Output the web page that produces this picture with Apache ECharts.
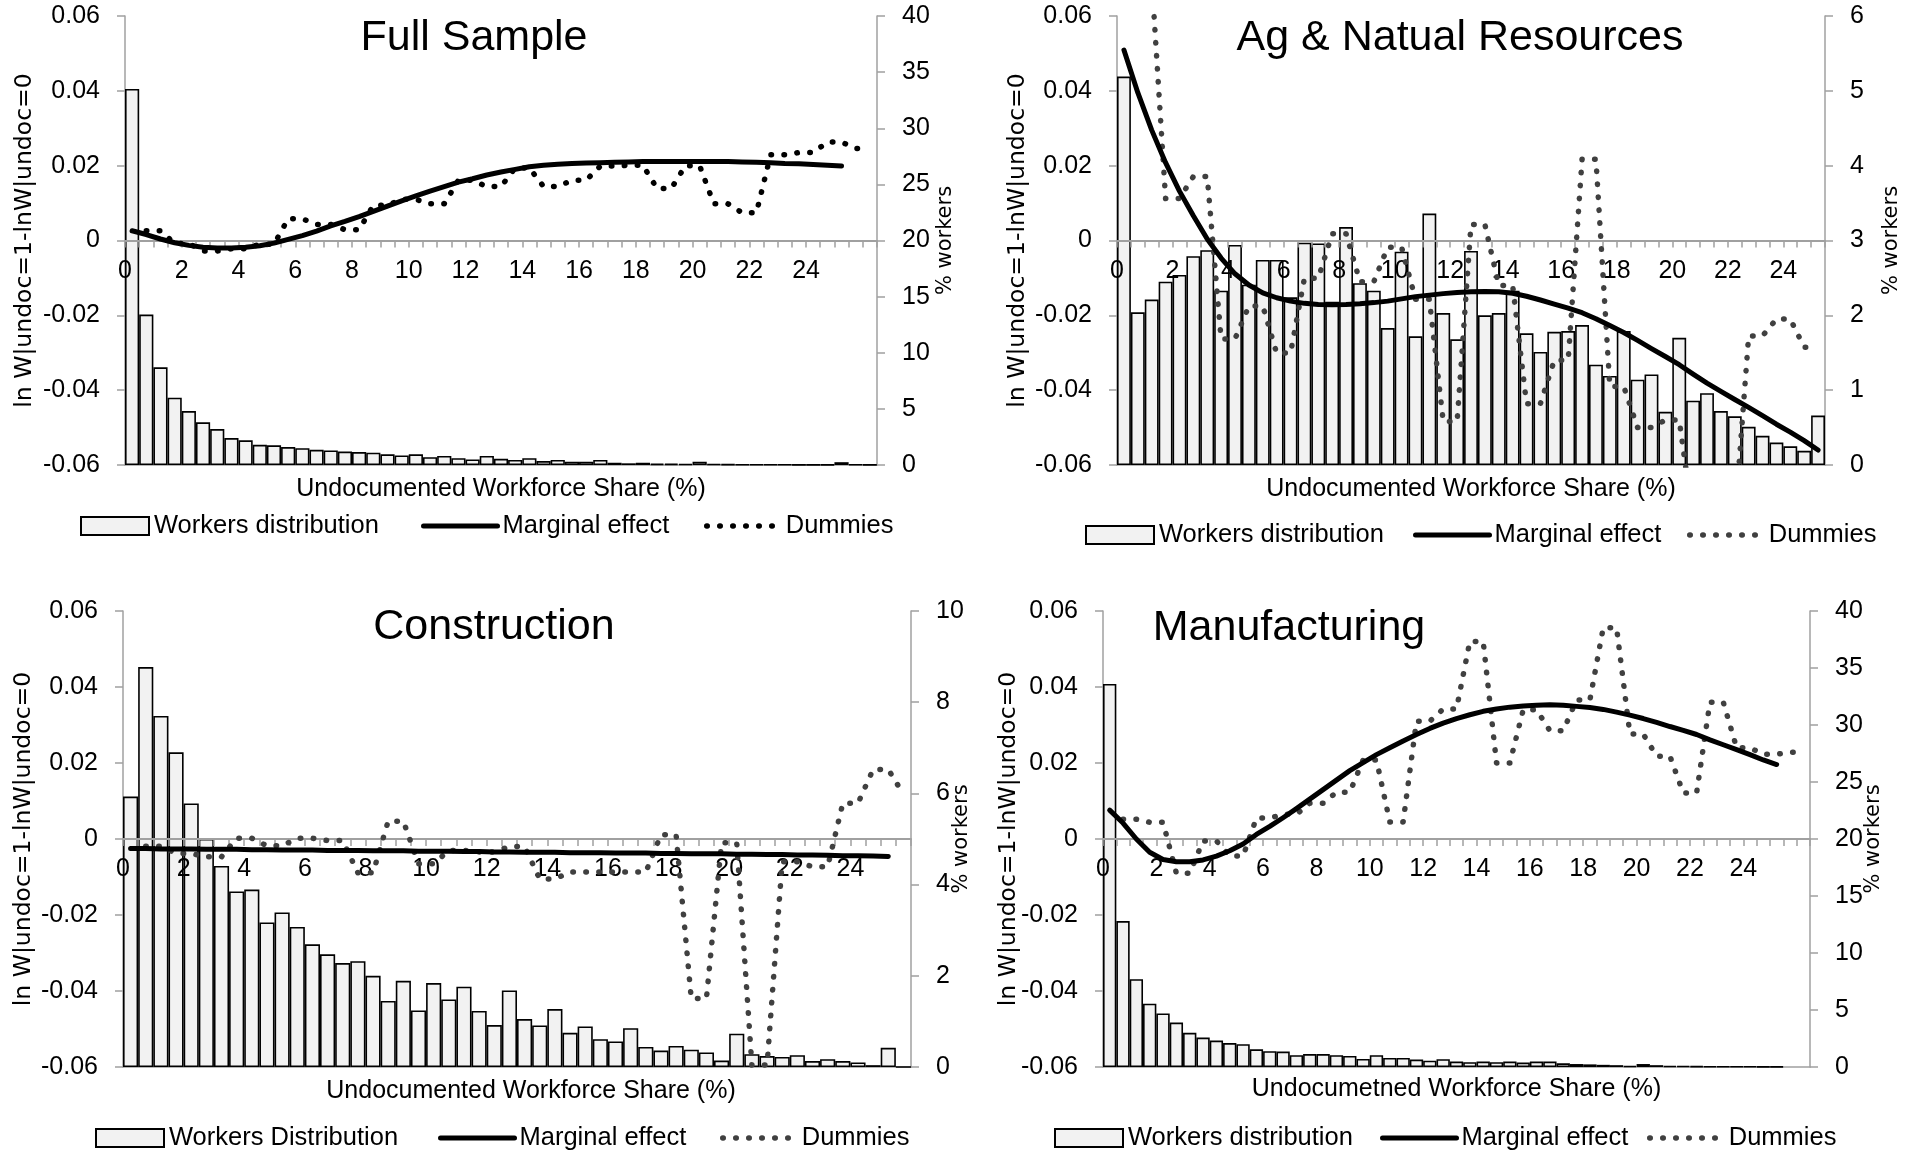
<!DOCTYPE html>
<html>
<head>
<meta charset="utf-8">
<script src="https://cdn.jsdelivr.net/npm/echarts@6/dist/echarts.min.js"></script>
<style>
html,body{margin:0;padding:0;background:#ffffff;}
#chart{width:1909px;height:1151px;}
</style>
</head>
<body>
<div id="chart"></div>
<script>
// ---------------- DATA ----------------
// category bins (lower bound of each 0.5-point bin of undocumented workforce share, %)
const shareCategories = ['0','0.5','1','1.5','2','2.5','3','3.5','4','4.5','5','5.5','6','6.5','7','7.5','8','8.5','9','9.5',
  '10','10.5','11','11.5','12','12.5','13','13.5','14','14.5','15','15.5','16','16.5','17','17.5','18','18.5','19','19.5',
  '20','20.5','21','21.5','22','22.5','23','23.5','24','24.5','25','25.5','26'];
const fullCategories = shareCategories.slice(0, 53);
const agCategories = shareCategories.slice(0, 51);
const constructionCategories = shareCategories.slice(0, 52);
const manufacturingCategories = shareCategories.slice(0, 53);

const xTickLabels = ['0','2','4','6','8','10','12','14','16','18','20','22','24'];
const leftTickLabels = ['-0.06','-0.04','-0.02','0','0.02','0.04','0.06'];
const rightTicksFull = ['0','5','10','15','20','25','30','35','40'];
const rightTicksAg = ['0','1','2','3','4','5','6'];
const rightTicksConstruction = ['0','2','4','6','8','10'];
const rightTicksManufacturing = ['0','5','10','15','20','25','30','35','40'];

// Full Sample
const fullWorkers = [33.5,13.4,8.7,6.0,4.8,3.8,3.2,2.4,2.2,1.8,
  1.75,1.6,1.5,1.35,1.3,1.2,1.15,1.1,0.95,0.85,
  0.95,0.7,0.8,0.6,0.5,0.8,0.55,0.45,0.6,0.35,
  0.45,0.3,0.3,0.45,0.2,0.15,0.2,0.12,0.12,0.1,
  0.3,0.08,0.06,0.05,0.05,0.04,0.04,0.03,0.03,0.03,
  0.25,0.05,0.03];
const fullMarginal = [0.0026,0.0016,0.0004,-0.0006,-0.0013,-0.0018,-0.0020,-0.0020,-0.0018,-0.0014,
  -0.0007,0.0003,0.0013,0.0025,0.0039,0.0051,0.0064,0.0078,0.0092,0.0106,
  0.0119,0.0132,0.0144,0.0156,0.0165,0.0175,0.0183,0.0190,0.0197,0.0201,
  0.0204,0.0206,0.0207,0.0208,0.0209,0.0210,0.0211,0.0211,0.0211,0.0211,
  0.0211,0.0211,0.0211,0.0210,0.0209,0.0208,0.0206,0.0205,0.0203,0.0201,
  0.0199];
const fullDummies = [null,0.0026,0.0026,-0.0008,-0.0008,-0.0028,-0.0028,-0.0022,-0.0022,-0.0010,
  -0.0010,0.0058,0.0058,0.0043,0.0043,0.0029,0.0029,0.0094,0.0094,0.0110,
  0.0110,0.0098,0.0098,0.0161,0.0161,0.0144,0.0144,0.0194,0.0194,0.0144,
  0.0144,0.0161,0.0161,0.0199,0.0199,0.0201,0.0201,0.0139,0.0139,0.0200,
  0.0200,0.0098,0.0098,0.0074,0.0074,0.0229,0.0229,0.0235,0.0235,0.0263,
  0.0263,0.0246,0.0246];

// Ag & Natural Resources
const agWorkers = [5.19,2.04,2.21,2.45,2.54,2.79,2.87,2.33,2.94,2.41,
  2.74,2.74,2.24,2.97,2.96,2.18,3.18,2.43,2.33,1.83,
  2.85,1.72,3.36,2.03,1.68,2.86,2.00,2.03,2.33,1.76,
  1.51,1.78,1.79,1.87,1.34,1.19,1.79,1.14,1.21,0.71,
  1.70,0.86,0.96,0.72,0.65,0.51,0.39,0.30,0.25,0.19,
  0.66];
const agMarginal = [0.0509,0.0395,0.0295,0.0208,0.0132,0.0066,0.0004,-0.0047,-0.0089,-0.0119,
  -0.0140,-0.0153,-0.0162,-0.0168,-0.0171,-0.0172,-0.0171,-0.0169,-0.0166,-0.0162,
  -0.0156,-0.0150,-0.0146,-0.0142,-0.0139,-0.0137,-0.0136,-0.0137,-0.0141,-0.0149,
  -0.0159,-0.0170,-0.0181,-0.0193,-0.0209,-0.0227,-0.0246,-0.0267,-0.0289,-0.0310,
  -0.0332,-0.0357,-0.0381,-0.0403,-0.0425,-0.0446,-0.0468,-0.0491,-0.0512,-0.0535,
  -0.0560];
const agDummies = [null,0.0700,0.0700,0.0112,0.0112,0.0171,0.0171,-0.0263,-0.0263,-0.0175,
  -0.0175,-0.0301,-0.0301,-0.0101,-0.0101,0.0018,0.0018,-0.0110,-0.0110,-0.0018,
  -0.0018,-0.0157,-0.0157,-0.0484,-0.0484,0.0043,0.0043,-0.0120,-0.0120,-0.0436,
  -0.0436,-0.0320,-0.0320,0.0217,0.0217,-0.0390,-0.0390,-0.0500,-0.0500,-0.0480,
  -0.0480,-0.0750,-0.0750,-0.0750,-0.0750,-0.0255,-0.0255,-0.0210,-0.0210,-0.0285,
  -0.0285];

// Construction
const constructionWorkers = [5.93,8.77,7.7,6.9,5.78,5.0,4.41,3.85,3.89,3.17,
  3.39,3.07,2.69,2.47,2.28,2.32,2.0,1.45,1.89,1.24,
  1.84,1.48,1.76,1.23,0.92,1.68,1.05,0.91,1.27,0.75,
  0.89,0.61,0.56,0.85,0.44,0.36,0.46,0.38,0.32,0.14,
  0.73,0.28,0.24,0.22,0.26,0.13,0.17,0.13,0.10,0.04,
  0.42,0];
const constructionMarginal = [-0.0025,-0.0025,-0.0026,-0.0026,-0.0026,-0.0027,-0.0027,-0.0027,-0.0028,-0.0028,
  -0.0029,-0.0029,-0.0029,-0.0030,-0.0030,-0.0030,-0.0031,-0.0031,-0.0031,-0.0032,
  -0.0032,-0.0032,-0.0033,-0.0033,-0.0034,-0.0034,-0.0035,-0.0035,-0.0035,-0.0036,
  -0.0036,-0.0036,-0.0037,-0.0037,-0.0037,-0.0038,-0.0038,-0.0039,-0.0039,-0.0039,
  -0.0040,-0.0040,-0.0041,-0.0041,-0.0042,-0.0042,-0.0043,-0.0044,-0.0044,-0.0045,
  -0.0046];
const constructionDummies = [null,-0.0019,-0.0019,-0.0038,-0.0038,-0.0047,-0.0047,0.0002,0.0002,-0.0018,
  -0.0018,0.0002,0.0002,-0.0004,-0.0004,-0.0089,-0.0089,0.0047,0.0047,-0.0065,
  -0.0065,-0.0030,-0.0030,-0.0034,-0.0034,-0.0020,-0.0020,-0.0105,-0.0105,-0.0087,
  -0.0087,-0.0087,-0.0087,-0.0087,-0.0087,0.0011,0.0011,-0.0420,-0.0420,-0.0010,
  -0.0010,-0.0595,-0.0595,-0.0060,-0.0060,-0.0073,-0.0073,0.0094,0.0094,0.0183,
  0.0183,0.0118];

// Manufacturing
const manufacturingWorkers = [33.6,12.8,7.7,5.55,4.7,3.9,3.0,2.58,2.32,2.1,
  2.0,1.55,1.39,1.35,1.03,1.13,1.13,1.03,0.97,0.71,
  1.03,0.8,0.8,0.65,0.55,0.68,0.48,0.42,0.48,0.42,
  0.48,0.39,0.48,0.48,0.32,0.26,0.23,0.19,0.16,0.1,
  0.26,0.16,0.1,0.08,0.06,0.05,0.05,0.04,0.04,0.03,
  0.03,null,null];
const manufacturingMarginal = [0.0076,0.0042,0.0000,-0.0035,-0.0054,-0.0060,-0.0060,-0.0055,-0.0045,-0.0031,
  -0.0013,0.0012,0.0033,0.0056,0.0080,0.0105,0.0130,0.0155,0.0180,0.0201,
  0.0222,0.0240,0.0258,0.0275,0.0291,0.0305,0.0317,0.0327,0.0336,0.0342,
  0.0347,0.0350,0.0352,0.0353,0.0352,0.0349,0.0346,0.0341,0.0334,0.0326,
  0.0317,0.0307,0.0296,0.0286,0.0275,0.0261,0.0248,0.0235,0.0222,0.0208,
  0.0196];
const manufacturingDummies = [null,0.0052,0.0052,0.0044,0.0044,-0.0090,-0.0090,-0.0005,-0.0005,-0.0045,
  -0.0045,0.0055,0.0055,0.0065,0.0065,0.0094,0.0094,0.0123,0.0123,0.0208,
  0.0208,0.0045,0.0045,0.0310,0.0310,0.0342,0.0342,0.0520,0.0520,0.0200,
  0.0200,0.0340,0.0340,0.0285,0.0285,0.0366,0.0366,0.0556,0.0556,0.0276,
  0.0276,0.0218,0.0218,0.0121,0.0121,0.0360,0.0360,0.0240,0.0240,0.0223,
  0.0223,0.0228,0.0228];

// ---------------- LAYOUT / STYLE ----------------
const FONT = "'Liberation Sans',Arimo,Arial,sans-serif";
const NAME_FONT = "'DejaVu Sans',Verdana,sans-serif";
const AXIS_GRAY = '#a0a0a0';
const TICK_SIZE = 25;

const panels = [
  {title:'Full Sample', cats:fullCategories, bars:fullWorkers, marginal:fullMarginal, dummies:fullDummies,
   barName:'Workers distribution', xName:'Undocumented Workforce Share (%)',
   rightMax:40, rightInterval:5, rightLabels:rightTicksFull, dummyColor:'#000000',
   grid:{left:125, top:16, width:752, height:449}, titleX:474, titleY:38,
   leftGap:88, rightGap:58, xNamePad:0, xNameGap:12, legendY:526, legendX:[80,421,704]},
  {title:'Ag & Natual Resources', cats:agCategories, bars:agWorkers, marginal:agMarginal, dummies:agDummies,
   barName:'Workers distribution', xName:'Undocumented Workforce Share (%)',
   rightMax:6, rightInterval:1, rightLabels:rightTicksAg, dummyColor:'#404040',
   grid:{left:1117, top:16, width:708, height:449}, titleX:1460, titleY:38,
   leftGap:87, rightGap:56, xNamePad:0, xNameGap:12, legendY:535, legendX:[1085,1413,1687]},
  {title:'Construction', cats:constructionCategories, bars:constructionWorkers, marginal:constructionMarginal, dummies:constructionDummies,
   barName:'Workers Distribution', xName:'Undocumented Workforce Share (%)',
   rightMax:10, rightInterval:2, rightLabels:rightTicksConstruction, dummyColor:'#404040',
   grid:{left:123, top:611, width:788, height:456}, titleX:494, titleY:627,
   leftGap:87, rightGap:40, xNamePad:28, xNameGap:12, legendY:1138, legendX:[95,438,720]},
  {title:'Manufacturing', cats:manufacturingCategories, bars:manufacturingWorkers, marginal:manufacturingMarginal, dummies:manufacturingDummies,
   barName:'Workers distribution', xName:'Undocumetned Workforce Share (%)',
   rightMax:40, rightInterval:5, rightLabels:rightTicksManufacturing, dummyColor:'#404040',
   grid:{left:1103, top:611, width:707, height:456}, titleX:1289, titleY:628,
   leftGap:82, rightGap:53, xNamePad:0, xNameGap:10, legendY:1138, legendX:[1054,1380,1647]}
];

function labelFor(list, v) {
  for (const s of list) { if (Math.abs(Number(s) - v) < 1e-9) return s; }
  return '';
}

const option = {animation:false, backgroundColor:'#ffffff', grid:[], xAxis:[], yAxis:[], series:[], legend:[], graphic:[]};

panels.forEach((p, k) => {
  option.grid.push({left:p.grid.left, top:p.grid.top, width:p.grid.width, height:p.grid.height,
    containLabel:false, outerBoundsMode:'none'});

  const yL = option.yAxis.length;
  option.yAxis.push({
    type:'value', gridIndex:k, position:'left', min:-0.06, max:0.06, interval:0.02,
    axisLine:{show:true, onZero:false, lineStyle:{color:AXIS_GRAY, width:1.5}},
    axisTick:{show:true, length:8, lineStyle:{color:AXIS_GRAY, width:1.5}},
    splitLine:{show:false},
    axisLabel:{margin:25, color:'#000', fontFamily:FONT, fontSize:TICK_SIZE, formatter:(v) => labelFor(leftTickLabels, v)},
    name:'ln W|undoc=1-lnW|undoc=0', nameLocation:'middle', nameRotate:90, nameGap:p.leftGap, nameMoveOverlap:false,
    nameTextStyle:{fontFamily:NAME_FONT, fontSize:23.5, color:'#000'}
  });
  option.yAxis.push({
    type:'value', gridIndex:k, position:'right', min:0, max:p.rightMax, interval:p.rightInterval,
    axisLine:{show:true, onZero:false, lineStyle:{color:AXIS_GRAY, width:1.5}},
    axisTick:{show:true, length:8, lineStyle:{color:AXIS_GRAY, width:1.5}},
    splitLine:{show:false},
    axisLabel:{margin:25, color:'#000', fontFamily:FONT, fontSize:TICK_SIZE, formatter:(v) => labelFor(p.rightLabels, v)},
    name:'% workers', nameLocation:'middle', nameRotate:90, nameGap:p.rightGap, nameMoveOverlap:false,
    nameTextStyle:{fontFamily:NAME_FONT, fontSize:21, color:'#000'}
  });

  const xC = option.xAxis.length;
  // category axis crossing at zero (ticks at bin boundaries)
  option.xAxis.push({
    type:'category', gridIndex:k, data:p.cats, boundaryGap:true, position:'bottom', z:3,
    axisLine:{show:true, onZero:true, onZeroAxisIndex:yL, lineStyle:{color:AXIS_GRAY, width:2}},
    axisTick:{show:true, interval:0, length:7, lineStyle:{color:AXIS_GRAY, width:1.5}},
    axisLabel:{show:false}, splitLine:{show:false}
  });
  // value axis carrying the share labels on bin boundaries, lifted to the zero line
  option.xAxis.push({
    type:'value', gridIndex:k, min:0, max:p.cats.length / 2, interval:2, position:'bottom', z:3,
    offset:-p.grid.height / 2,
    axisLine:{show:false, onZero:false},
    axisTick:{show:false}, splitLine:{show:false},
    axisLabel:{show:true, margin:18, color:'#000', fontFamily:FONT, fontSize:TICK_SIZE, showMaxLabel:false,
      formatter:(v) => (xTickLabels.indexOf(String(v)) >= 0 ? String(v) : '')}
  });
  // bottom axis: plot-area base line and axis title
  option.xAxis.push({
    type:'value', gridIndex:k, min:0, max:1, position:'bottom',
    axisLine:{show:true, onZero:false, lineStyle:{color:AXIS_GRAY, width:1.5}},
    axisTick:{show:false}, axisLabel:{show:false}, splitLine:{show:false},
    name:p.xName, nameLocation:'middle', nameGap:p.xNameGap, nameMoveOverlap:false,
    nameTextStyle:{fontFamily:FONT, fontSize:25, color:'#000', padding:[0,0,0,p.xNamePad]}
  });

  option.series.push({
    type:'bar', name:p.barName, xAxisIndex:xC, yAxisIndex:yL + 1, data:p.bars,
    barWidth:'100%', barCategoryGap:'0%', z:2, silent:true,
    itemStyle:{color:'#f2f2f2', borderColor:'#000', borderWidth:1.6}
  });
  option.series.push({
    type:'line', name:'Dummies', xAxisIndex:xC, yAxisIndex:yL, data:p.dummies,
    symbol:'none', showSymbol:false, connectNulls:false, z:4, silent:true, clip:true,
    itemStyle:{color:p.dummyColor},
    lineStyle:{color:p.dummyColor, width:5.5, type:[0.5, 12.5], cap:'round', join:'round'}
  });
  option.series.push({
    type:'line', name:'Marginal effect', xAxisIndex:xC, yAxisIndex:yL, data:p.marginal,
    symbol:'none', showSymbol:false, z:5, silent:true, clip:true,
    itemStyle:{color:'#000'},
    lineStyle:{color:'#000', width:5, cap:'round', join:'round'}
  });

  const legendBase = {orient:'horizontal', padding:0, selectedMode:false, itemHeight:18,
    textStyle:{fontFamily:FONT, fontSize:25.5, color:'#000'}};
  option.legend.push(Object.assign({}, legendBase, {left:p.legendX[0], top:p.legendY - 13, itemWidth:68,
    data:[{name:p.barName, icon:'rect'}]}));
  option.legend.push(Object.assign({}, legendBase, {left:p.legendX[1], top:p.legendY - 13, itemWidth:74,
    data:[{name:'Marginal effect', itemStyle:{opacity:0}, lineStyle:{width:5, color:'#000'}}]}));
  option.legend.push(Object.assign({}, legendBase, {left:p.legendX[2], top:p.legendY - 13, itemWidth:74,
    data:[{name:'Dummies', itemStyle:{opacity:0}, lineStyle:{width:5.5, color:p.dummyColor}}]}));

  option.graphic.push({type:'text', x:p.titleX, y:p.titleY, z:10,
    style:{text:p.title, fontFamily:FONT, fontSize:43, fill:'#000', align:'center', verticalAlign:'middle',
      textAlign:'center', textVerticalAlign:'middle'}});
});

// the bottom-right picture covers the tail of the Construction "% workers" title
option.graphic.push({type:'rect', z:100, shape:{x:969, y:590, width:22, height:540}, style:{fill:'#ffffff'}});

const chart = echarts.init(document.getElementById('chart'), null, {renderer:'canvas'});
chart.setOption(option);
</script>
</body>
</html>
